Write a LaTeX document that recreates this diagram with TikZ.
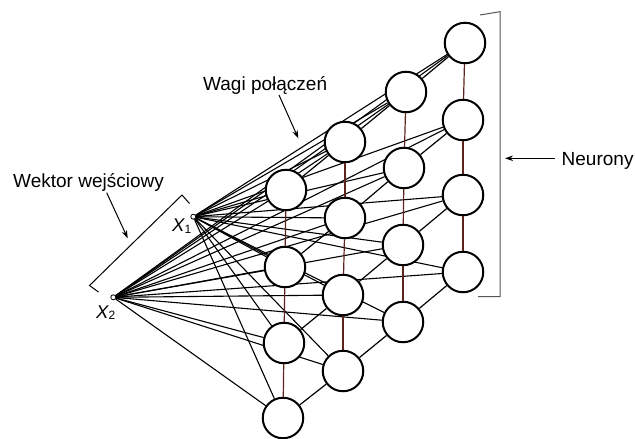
\documentclass[tikz,border=0pt]{standalone}
\usepackage{fontspec}
\setmainfont{Liberation Sans}
\usetikzlibrary{arrows.meta,backgrounds}
\definecolor{vred}{RGB}{95,35,30}
\definecolor{brgray}{RGB}{85,85,85}
\begin{document}
\begin{tikzpicture}[x=1pt,y=-1pt,
  neuron/.style={circle,draw=black,line width=2pt,fill=white,minimum size=40.5pt,inner sep=0pt},
  inpt/.style={circle,draw=black,line width=0.8pt,fill=white,minimum size=5pt,inner sep=0pt},
  wire/.style={line width=1.1pt,black},
  lattice/.style={line width=1.2pt,black},
  vlink/.style={line width=1.2pt,vred},
  lbl/.style={font=\fontsize{19}{22}\selectfont,inner sep=0pt,anchor=base west},
  sublbl/.style={font=\fontsize{18.5}{22}\selectfont\itshape,inner sep=0pt,anchor=base west},
  pointer/.style={line width=1pt,-{Stealth[length=8pt,width=5.5pt,inset=2.5pt]}},
  brk/.style={line width=1pt}]
\useasboundingbox (0,0) rectangle (635,439);
% neurons
\foreach \c/\r/\x/\y in {1/1/286/190,1/2/285/267,1/3/284/343,1/4/283/418,
                         2/1/345/142,2/2/345/218,2/3/343/295,2/4/343/371,
                         3/1/406/92,3/2/404/168,3/3/403/245,3/4/403/322,
                         4/1/465/43,4/2/463/120,4/3/463/195,4/4/463/272}
  \node[neuron] (n\c\r) at (\x,\y) {};
% inputs
\node[inpt] (x1) at (193.3,216.7) {};
\node[inpt] (x2) at (113.3,297.3) {};
\begin{scope}[on background layer]
  \foreach \c in {1,...,4}
    \foreach \r in {1,...,4} {
      \draw[wire] (x1) -- (n\c\r);
      \draw[wire] (x2) -- (n\c\r);
    }
  % lattice: rows
  \foreach \r in {1,...,4} {
    \draw[lattice] (n1\r) -- (n2\r);
    \draw[lattice] (n2\r) -- (n3\r);
    \draw[lattice] (n3\r) -- (n4\r);
  }
\end{scope}
% lattice: columns
\foreach \c in {1,...,4} {
  \draw[vlink] (n\c1) -- (n\c2);
  \draw[vlink] (n\c2) -- (n\c3);
  \draw[vlink] (n\c3) -- (n\c4);
}
% input labels
\node[sublbl] (lx1) at (172,231.7) {X\raisebox{-1.8pt}{\upshape\fontsize{12}{14}\selectfont 1}};
\node[sublbl] (lx2) at (96,318) {X\raisebox{-1.8pt}{\upshape\fontsize{12}{14}\selectfont 2}};
% input bracket
\coordinate (bt1) at (189.5,203.5);
\coordinate (bt2) at (182,195);
\coordinate (bb1) at (89.5,285.5);
\coordinate (bb2) at (98.5,292);
\draw[brk] (bt1) -- (bt2) -- (bb1) -- (bb2);
% Wektor wejsciowy
\node[lbl] (twek) at (13,187) {Wektor wejściowy};
\coordinate (aw1) at (106.7,192.7);
\coordinate (aw2) at (127.7,238.3);
\draw[pointer] (aw1) -- (aw2);
% Wagi polaczen
\node[lbl] (twag) at (203,90.5) {Wagi połączeń};
\coordinate (ag1) at (279,95);
\coordinate (ag2) at (298.3,138.3);
\draw[pointer] (ag1) -- (ag2);
% Neurony bracket
\coordinate (nt1) at (480,15);
\coordinate (nt2) at (500,11.7);
\coordinate (nb2) at (500,296.7);
\coordinate (nb1) at (478,296.7);
\draw[brk,brgray] (nt1) -- (nt2) -- (nb2) -- (nb1);
\node[lbl] (tneu) at (561.5,165.7) {Neurony};
\coordinate (an1) at (555,158.3);
\coordinate (an2) at (505,158.3);
\draw[pointer] (an1) -- (an2);
\end{tikzpicture}
\end{document}
